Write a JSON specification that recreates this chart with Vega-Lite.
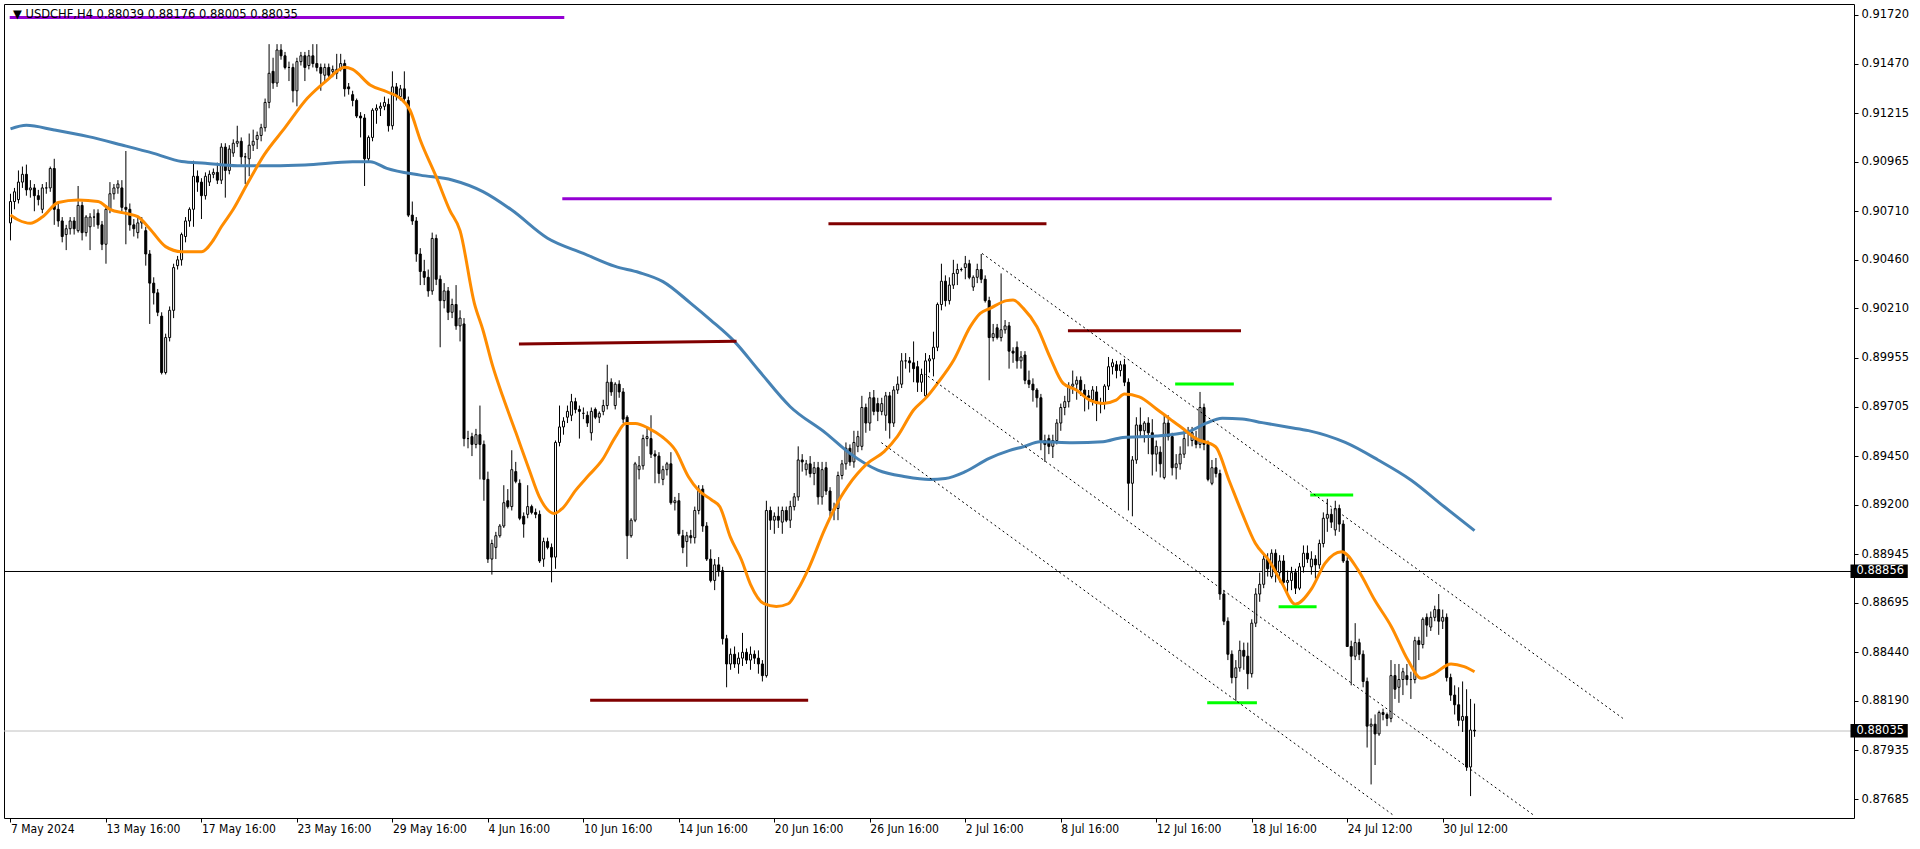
{
"$schema":"https://vega.github.io/schema/vega-lite/v6.json",
"width":1850,"height":814,
"autosize":{"type":"none"},
"padding":{"left":4,"top":4,"right":66,"bottom":31},
"background":"white",
"config":{"view":{"stroke":"black","strokeWidth":1},"axis":{"grid":false}},
"resolve":{"axis":{"x":"independent","y":"independent"}},
"datasets":{
"candles":[
{"i":0,"o":0.9065,"h":0.908,"l":0.9056,"c":0.9076},
{"i":1,"o":0.9076,"h":0.9083,"l":0.9072,"c":0.9081},
{"i":2,"o":0.9077,"h":0.9092,"l":0.9075,"c":0.9086},
{"i":3,"o":0.9086,"h":0.9094,"l":0.9083,"c":0.909},
{"i":4,"o":0.909,"h":0.9095,"l":0.9079,"c":0.9082},
{"i":5,"o":0.9082,"h":0.9087,"l":0.9078,"c":0.9083},
{"i":6,"o":0.9083,"h":0.9085,"l":0.9071,"c":0.9079},
{"i":7,"o":0.9079,"h":0.9082,"l":0.9074,"c":0.9077},
{"i":8,"o":0.9072,"h":0.9085,"l":0.907,"c":0.9083},
{"i":9,"o":0.9083,"h":0.9086,"l":0.908,"c":0.9083},
{"i":10,"o":0.9083,"h":0.9094,"l":0.9081,"c":0.9093},
{"i":11,"o":0.9093,"h":0.9098,"l":0.9064,"c":0.9072},
{"i":12,"o":0.9072,"h":0.9075,"l":0.9063,"c":0.9066},
{"i":13,"o":0.9066,"h":0.9068,"l":0.9055,"c":0.9058},
{"i":14,"o":0.9059,"h":0.9064,"l":0.9051,"c":0.9062},
{"i":15,"o":0.9062,"h":0.9068,"l":0.9059,"c":0.9066},
{"i":16,"o":0.9066,"h":0.9068,"l":0.9059,"c":0.9062},
{"i":17,"o":0.9061,"h":0.9084,"l":0.906,"c":0.9074},
{"i":18,"o":0.9074,"h":0.9076,"l":0.9056,"c":0.906},
{"i":19,"o":0.906,"h":0.9069,"l":0.9058,"c":0.9068},
{"i":20,"o":0.9063,"h":0.907,"l":0.9051,"c":0.9068},
{"i":21,"o":0.9068,"h":0.9072,"l":0.9063,"c":0.9068},
{"i":22,"o":0.907,"h":0.9072,"l":0.9062,"c":0.9064},
{"i":23,"o":0.9064,"h":0.9066,"l":0.9051,"c":0.9054},
{"i":24,"o":0.9054,"h":0.9074,"l":0.9044,"c":0.9072},
{"i":25,"o":0.9072,"h":0.9086,"l":0.907,"c":0.908},
{"i":26,"o":0.908,"h":0.9085,"l":0.9077,"c":0.9083},
{"i":27,"o":0.9083,"h":0.9087,"l":0.908,"c":0.9085},
{"i":28,"o":0.9083,"h":0.9087,"l":0.9071,"c":0.9073},
{"i":29,"o":0.9073,"h":0.9102,"l":0.9054,"c":0.9072},
{"i":30,"o":0.9072,"h":0.9075,"l":0.9061,"c":0.9064},
{"i":31,"o":0.9064,"h":0.9067,"l":0.9058,"c":0.9062},
{"i":32,"o":0.906,"h":0.9068,"l":0.9057,"c":0.9065},
{"i":33,"o":0.9065,"h":0.9068,"l":0.9062,"c":0.9066},
{"i":34,"o":0.9061,"h":0.9063,"l":0.9043,"c":0.9049},
{"i":35,"o":0.9049,"h":0.9051,"l":0.9013,"c":0.9034},
{"i":36,"o":0.9034,"h":0.9037,"l":0.9023,"c":0.9029},
{"i":37,"o":0.9029,"h":0.9031,"l":0.9017,"c":0.9019},
{"i":38,"o":0.9017,"h":0.9019,"l":0.8987,"c":0.8988},
{"i":39,"o":0.8988,"h":0.9008,"l":0.8987,"c":0.9006},
{"i":40,"o":0.9006,"h":0.9022,"l":0.9004,"c":0.902},
{"i":41,"o":0.902,"h":0.9044,"l":0.9016,"c":0.9042},
{"i":42,"o":0.9043,"h":0.9048,"l":0.9041,"c":0.9046},
{"i":43,"o":0.9046,"h":0.906,"l":0.9043,"c":0.9059},
{"i":44,"o":0.9058,"h":0.9068,"l":0.9055,"c":0.9066},
{"i":45,"o":0.9066,"h":0.9073,"l":0.9063,"c":0.9072},
{"i":46,"o":0.9072,"h":0.9097,"l":0.9063,"c":0.9089},
{"i":47,"o":0.9089,"h":0.9092,"l":0.9081,"c":0.9086},
{"i":48,"o":0.9086,"h":0.9088,"l":0.9067,"c":0.9079},
{"i":49,"o":0.9079,"h":0.9091,"l":0.9077,"c":0.9089},
{"i":50,"o":0.9086,"h":0.9092,"l":0.9084,"c":0.909},
{"i":51,"o":0.909,"h":0.9093,"l":0.9088,"c":0.9091},
{"i":52,"o":0.9091,"h":0.9096,"l":0.9085,"c":0.9087},
{"i":53,"o":0.9087,"h":0.9106,"l":0.9085,"c":0.9104},
{"i":54,"o":0.9104,"h":0.9106,"l":0.9078,"c":0.9092},
{"i":55,"o":0.9092,"h":0.9105,"l":0.909,"c":0.9103},
{"i":56,"o":0.9101,"h":0.9108,"l":0.9099,"c":0.9106},
{"i":57,"o":0.9106,"h":0.9115,"l":0.9104,"c":0.9107},
{"i":58,"o":0.9107,"h":0.9109,"l":0.9095,"c":0.9099},
{"i":59,"o":0.9099,"h":0.9101,"l":0.9085,"c":0.9099},
{"i":60,"o":0.9098,"h":0.9111,"l":0.9089,"c":0.9105},
{"i":61,"o":0.9105,"h":0.9113,"l":0.9102,"c":0.9107},
{"i":62,"o":0.9108,"h":0.9112,"l":0.9103,"c":0.911},
{"i":63,"o":0.911,"h":0.9116,"l":0.9107,"c":0.9114},
{"i":64,"o":0.9114,"h":0.9129,"l":0.9112,"c":0.9127},
{"i":65,"o":0.9127,"h":0.9157,"l":0.9124,"c":0.9142},
{"i":66,"o":0.9143,"h":0.915,"l":0.9134,"c":0.9137},
{"i":67,"o":0.9137,"h":0.9157,"l":0.9135,"c":0.9154},
{"i":68,"o":0.9154,"h":0.9157,"l":0.9149,"c":0.9151},
{"i":69,"o":0.9151,"h":0.9153,"l":0.9144,"c":0.9145},
{"i":70,"o":0.9145,"h":0.9148,"l":0.9138,"c":0.9145},
{"i":71,"o":0.9145,"h":0.9147,"l":0.9127,"c":0.9133},
{"i":72,"o":0.9133,"h":0.915,"l":0.9125,"c":0.9148},
{"i":73,"o":0.9148,"h":0.9153,"l":0.9146,"c":0.9151},
{"i":74,"o":0.9151,"h":0.9153,"l":0.9138,"c":0.9145},
{"i":75,"o":0.9146,"h":0.9154,"l":0.9144,"c":0.9151},
{"i":76,"o":0.9151,"h":0.9157,"l":0.9145,"c":0.9147},
{"i":77,"o":0.9147,"h":0.9157,"l":0.9143,"c":0.9145},
{"i":78,"o":0.9145,"h":0.9147,"l":0.9133,"c":0.9142},
{"i":79,"o":0.9141,"h":0.9147,"l":0.9137,"c":0.9145},
{"i":80,"o":0.9145,"h":0.9147,"l":0.914,"c":0.9141},
{"i":81,"o":0.9143,"h":0.9146,"l":0.914,"c":0.9144},
{"i":82,"o":0.9142,"h":0.9152,"l":0.9139,"c":0.9144},
{"i":83,"o":0.9144,"h":0.9152,"l":0.9143,"c":0.9147},
{"i":84,"o":0.9147,"h":0.9149,"l":0.913,"c":0.9134},
{"i":85,"o":0.9135,"h":0.9137,"l":0.9131,"c":0.9134},
{"i":86,"o":0.9131,"h":0.9133,"l":0.9125,"c":0.9128},
{"i":87,"o":0.9128,"h":0.9129,"l":0.9119,"c":0.912},
{"i":88,"o":0.912,"h":0.9122,"l":0.9109,"c":0.9119},
{"i":89,"o":0.9119,"h":0.9121,"l":0.9084,"c":0.9098},
{"i":90,"o":0.9098,"h":0.911,"l":0.9096,"c":0.9109},
{"i":91,"o":0.9109,"h":0.9124,"l":0.9107,"c":0.9123},
{"i":92,"o":0.9123,"h":0.9126,"l":0.9116,"c":0.9124},
{"i":93,"o":0.9124,"h":0.9127,"l":0.912,"c":0.9125},
{"i":94,"o":0.9125,"h":0.913,"l":0.9123,"c":0.9127},
{"i":95,"o":0.9126,"h":0.9129,"l":0.9112,"c":0.9115},
{"i":96,"o":0.9115,"h":0.9143,"l":0.9113,"c":0.9135},
{"i":97,"o":0.9135,"h":0.9137,"l":0.9128,"c":0.913},
{"i":98,"o":0.913,"h":0.9136,"l":0.9128,"c":0.9134},
{"i":99,"o":0.9134,"h":0.9143,"l":0.9127,"c":0.9129},
{"i":100,"o":0.9128,"h":0.913,"l":0.9068,"c":0.9069},
{"i":101,"o":0.9069,"h":0.9076,"l":0.9064,"c":0.9066},
{"i":102,"o":0.9066,"h":0.9068,"l":0.9045,"c":0.9049},
{"i":103,"o":0.9049,"h":0.9052,"l":0.9033,"c":0.904},
{"i":104,"o":0.904,"h":0.9046,"l":0.9033,"c":0.9037},
{"i":105,"o":0.9037,"h":0.9041,"l":0.9027,"c":0.903},
{"i":106,"o":0.903,"h":0.906,"l":0.9028,"c":0.9057},
{"i":107,"o":0.9057,"h":0.9059,"l":0.9033,"c":0.9036},
{"i":108,"o":0.9036,"h":0.9038,"l":0.9001,"c":0.9025},
{"i":109,"o":0.9025,"h":0.9034,"l":0.9021,"c":0.903},
{"i":110,"o":0.903,"h":0.9032,"l":0.9015,"c":0.9019},
{"i":111,"o":0.9019,"h":0.9026,"l":0.9016,"c":0.9023},
{"i":112,"o":0.9023,"h":0.9033,"l":0.901,"c":0.9012},
{"i":113,"o":0.9012,"h":0.902,"l":0.9004,"c":0.9016},
{"i":114,"o":0.9013,"h":0.9016,"l":0.895,"c":0.8954},
{"i":115,"o":0.8954,"h":0.8958,"l":0.8949,"c":0.8954},
{"i":116,"o":0.8955,"h":0.8957,"l":0.8945,"c":0.8951},
{"i":117,"o":0.8951,"h":0.8959,"l":0.8949,"c":0.8956},
{"i":118,"o":0.8956,"h":0.8971,"l":0.8933,"c":0.8951},
{"i":119,"o":0.8951,"h":0.8953,"l":0.8922,"c":0.8933},
{"i":120,"o":0.8933,"h":0.8937,"l":0.889,"c":0.8892},
{"i":121,"o":0.8892,"h":0.8902,"l":0.8884,"c":0.89},
{"i":122,"o":0.8898,"h":0.8906,"l":0.8892,"c":0.8904},
{"i":123,"o":0.8904,"h":0.891,"l":0.8903,"c":0.8909},
{"i":124,"o":0.8909,"h":0.893,"l":0.8908,"c":0.8921},
{"i":125,"o":0.8922,"h":0.8928,"l":0.8918,"c":0.8919},
{"i":126,"o":0.8919,"h":0.8948,"l":0.8917,"c":0.8938},
{"i":127,"o":0.8937,"h":0.8942,"l":0.8931,"c":0.8932},
{"i":128,"o":0.8931,"h":0.8933,"l":0.8912,"c":0.8913},
{"i":129,"o":0.8914,"h":0.8916,"l":0.8903,"c":0.891},
{"i":130,"o":0.8915,"h":0.893,"l":0.8913,"c":0.8919},
{"i":131,"o":0.8919,"h":0.892,"l":0.8915,"c":0.8916},
{"i":132,"o":0.8916,"h":0.8918,"l":0.8913,"c":0.8915},
{"i":133,"o":0.8915,"h":0.8917,"l":0.889,"c":0.8891},
{"i":134,"o":0.8892,"h":0.8903,"l":0.8888,"c":0.8901},
{"i":135,"o":0.8901,"h":0.8903,"l":0.8897,"c":0.8898},
{"i":136,"o":0.8898,"h":0.89,"l":0.888,"c":0.8893},
{"i":137,"o":0.8893,"h":0.8953,"l":0.8887,"c":0.8952},
{"i":138,"o":0.8952,"h":0.8971,"l":0.895,"c":0.896},
{"i":139,"o":0.896,"h":0.8965,"l":0.8956,"c":0.8963},
{"i":140,"o":0.8965,"h":0.8971,"l":0.8962,"c":0.8968},
{"i":141,"o":0.8966,"h":0.8977,"l":0.8963,"c":0.8973},
{"i":142,"o":0.8973,"h":0.8975,"l":0.8967,"c":0.8969},
{"i":143,"o":0.8969,"h":0.8971,"l":0.8954,"c":0.8968},
{"i":144,"o":0.8967,"h":0.897,"l":0.8964,"c":0.8967},
{"i":145,"o":0.8966,"h":0.8968,"l":0.896,"c":0.8962},
{"i":146,"o":0.8957,"h":0.897,"l":0.8953,"c":0.8968},
{"i":147,"o":0.8969,"h":0.897,"l":0.8964,"c":0.8965},
{"i":148,"o":0.8965,"h":0.8968,"l":0.8962,"c":0.8967},
{"i":149,"o":0.8968,"h":0.8974,"l":0.8966,"c":0.8971},
{"i":150,"o":0.8971,"h":0.8992,"l":0.8969,"c":0.8983},
{"i":151,"o":0.8983,"h":0.8985,"l":0.8976,"c":0.8978},
{"i":152,"o":0.8971,"h":0.8983,"l":0.8969,"c":0.8982},
{"i":153,"o":0.8982,"h":0.8984,"l":0.8975,"c":0.8978},
{"i":154,"o":0.8978,"h":0.898,"l":0.8962,"c":0.8964},
{"i":155,"o":0.8965,"h":0.8966,"l":0.8892,"c":0.8904},
{"i":156,"o":0.8904,"h":0.8913,"l":0.8903,"c":0.8912},
{"i":157,"o":0.8912,"h":0.8942,"l":0.8911,"c":0.8941},
{"i":158,"o":0.8938,"h":0.8945,"l":0.8933,"c":0.894},
{"i":159,"o":0.894,"h":0.8956,"l":0.8938,"c":0.8954},
{"i":160,"o":0.8954,"h":0.896,"l":0.895,"c":0.8955},
{"i":161,"o":0.8954,"h":0.8966,"l":0.8944,"c":0.8946},
{"i":162,"o":0.8946,"h":0.8948,"l":0.8931,"c":0.8945},
{"i":163,"o":0.8945,"h":0.8947,"l":0.8931,"c":0.8936},
{"i":164,"o":0.8933,"h":0.894,"l":0.893,"c":0.8938},
{"i":165,"o":0.8938,"h":0.8942,"l":0.8935,"c":0.8941},
{"i":166,"o":0.8941,"h":0.8947,"l":0.892,"c":0.8921},
{"i":167,"o":0.8921,"h":0.8924,"l":0.8917,"c":0.8922},
{"i":168,"o":0.8922,"h":0.8926,"l":0.8904,"c":0.8905},
{"i":169,"o":0.8904,"h":0.8907,"l":0.8895,"c":0.8898},
{"i":170,"o":0.8901,"h":0.8906,"l":0.8888,"c":0.8904},
{"i":171,"o":0.8904,"h":0.8907,"l":0.89,"c":0.8903},
{"i":172,"o":0.8903,"h":0.8919,"l":0.89,"c":0.8917},
{"i":173,"o":0.8917,"h":0.893,"l":0.8915,"c":0.8928},
{"i":174,"o":0.8928,"h":0.893,"l":0.8906,"c":0.8909},
{"i":175,"o":0.8909,"h":0.8911,"l":0.8891,"c":0.8892},
{"i":176,"o":0.8892,"h":0.8897,"l":0.888,"c":0.8881},
{"i":177,"o":0.8881,"h":0.8892,"l":0.8876,"c":0.8889},
{"i":178,"o":0.8889,"h":0.8893,"l":0.8883,"c":0.8886},
{"i":179,"o":0.8886,"h":0.8888,"l":0.8848,"c":0.8851},
{"i":180,"o":0.8851,"h":0.8853,"l":0.8826,"c":0.8838},
{"i":181,"o":0.8838,"h":0.8846,"l":0.8835,"c":0.8843},
{"i":182,"o":0.8843,"h":0.8847,"l":0.8836,"c":0.8838},
{"i":183,"o":0.8838,"h":0.8844,"l":0.8833,"c":0.8841},
{"i":184,"o":0.8841,"h":0.8854,"l":0.8837,"c":0.8844},
{"i":185,"o":0.8844,"h":0.8846,"l":0.8838,"c":0.884},
{"i":186,"o":0.884,"h":0.8847,"l":0.8835,"c":0.8843},
{"i":187,"o":0.8843,"h":0.8845,"l":0.8838,"c":0.8841},
{"i":188,"o":0.8841,"h":0.8845,"l":0.8833,"c":0.8838},
{"i":189,"o":0.8838,"h":0.884,"l":0.8829,"c":0.8832},
{"i":190,"o":0.8832,"h":0.8922,"l":0.8831,"c":0.8917},
{"i":191,"o":0.8917,"h":0.8919,"l":0.8907,"c":0.8912},
{"i":192,"o":0.8912,"h":0.8916,"l":0.8905,"c":0.8914},
{"i":193,"o":0.8914,"h":0.8919,"l":0.8908,"c":0.8912},
{"i":194,"o":0.8911,"h":0.8919,"l":0.8905,"c":0.8917},
{"i":195,"o":0.8917,"h":0.8919,"l":0.8911,"c":0.8912},
{"i":196,"o":0.8912,"h":0.8922,"l":0.8908,"c":0.8919},
{"i":197,"o":0.8919,"h":0.8926,"l":0.8917,"c":0.8924},
{"i":198,"o":0.8924,"h":0.895,"l":0.8922,"c":0.8943},
{"i":199,"o":0.8943,"h":0.8946,"l":0.8937,"c":0.8942},
{"i":200,"o":0.8938,"h":0.8943,"l":0.8935,"c":0.8941},
{"i":201,"o":0.8941,"h":0.8945,"l":0.8934,"c":0.8936},
{"i":202,"o":0.8936,"h":0.8942,"l":0.893,"c":0.8939},
{"i":203,"o":0.8939,"h":0.8942,"l":0.892,"c":0.8924},
{"i":204,"o":0.8924,"h":0.8942,"l":0.892,"c":0.8938},
{"i":205,"o":0.8939,"h":0.8942,"l":0.8925,"c":0.8927},
{"i":206,"o":0.8927,"h":0.8929,"l":0.8914,"c":0.8917},
{"i":207,"o":0.8917,"h":0.8921,"l":0.8912,"c":0.8918},
{"i":208,"o":0.8918,"h":0.8937,"l":0.8912,"c":0.8935},
{"i":209,"o":0.8935,"h":0.8943,"l":0.8933,"c":0.8941},
{"i":210,"o":0.8941,"h":0.8952,"l":0.8938,"c":0.8949},
{"i":211,"o":0.8949,"h":0.8951,"l":0.894,"c":0.8942},
{"i":212,"o":0.8942,"h":0.8958,"l":0.8939,"c":0.8952},
{"i":213,"o":0.895,"h":0.8958,"l":0.8947,"c":0.8955},
{"i":214,"o":0.895,"h":0.8976,"l":0.8948,"c":0.897},
{"i":215,"o":0.897,"h":0.8972,"l":0.8957,"c":0.8962},
{"i":216,"o":0.8962,"h":0.8978,"l":0.8958,"c":0.8975},
{"i":217,"o":0.8975,"h":0.8979,"l":0.8966,"c":0.8968},
{"i":218,"o":0.8972,"h":0.8975,"l":0.8963,"c":0.8968},
{"i":219,"o":0.8968,"h":0.8975,"l":0.8966,"c":0.8972},
{"i":220,"o":0.8966,"h":0.8978,"l":0.8958,"c":0.8976},
{"i":221,"o":0.8976,"h":0.8978,"l":0.8954,"c":0.8962},
{"i":222,"o":0.8962,"h":0.8981,"l":0.896,"c":0.8979},
{"i":223,"o":0.8979,"h":0.8986,"l":0.8977,"c":0.8982},
{"i":224,"o":0.8982,"h":0.8998,"l":0.898,"c":0.8994},
{"i":225,"o":0.8994,"h":0.8998,"l":0.899,"c":0.8994},
{"i":226,"o":0.8994,"h":0.8996,"l":0.8988,"c":0.8993},
{"i":227,"o":0.8993,"h":0.9004,"l":0.8983,"c":0.899},
{"i":228,"o":0.8991,"h":0.8994,"l":0.8978,"c":0.8983},
{"i":229,"o":0.8983,"h":0.899,"l":0.8978,"c":0.8987},
{"i":230,"o":0.8976,"h":0.8998,"l":0.8975,"c":0.8994},
{"i":231,"o":0.8994,"h":0.8997,"l":0.8988,"c":0.8995},
{"i":232,"o":0.8995,"h":0.9009,"l":0.8986,"c":0.9001},
{"i":233,"o":0.9001,"h":0.9024,"l":0.8999,"c":0.9023},
{"i":234,"o":0.9023,"h":0.9044,"l":0.902,"c":0.9035},
{"i":235,"o":0.9035,"h":0.9038,"l":0.9022,"c":0.9025},
{"i":236,"o":0.9025,"h":0.9037,"l":0.9023,"c":0.9033},
{"i":237,"o":0.9033,"h":0.9046,"l":0.9031,"c":0.9039},
{"i":238,"o":0.9039,"h":0.9044,"l":0.9033,"c":0.9041},
{"i":239,"o":0.9041,"h":0.9042,"l":0.904,"c":0.9041},
{"i":240,"o":0.9042,"h":0.9048,"l":0.9036,"c":0.9044},
{"i":241,"o":0.9044,"h":0.9046,"l":0.9036,"c":0.9037},
{"i":242,"o":0.9032,"h":0.9038,"l":0.903,"c":0.9037},
{"i":243,"o":0.9037,"h":0.9044,"l":0.9034,"c":0.9041},
{"i":244,"o":0.9041,"h":0.9049,"l":0.9034,"c":0.9036},
{"i":245,"o":0.9036,"h":0.9038,"l":0.9024,"c":0.9025},
{"i":246,"o":0.9025,"h":0.9027,"l":0.8984,"c":0.9006},
{"i":247,"o":0.9006,"h":0.9013,"l":0.9004,"c":0.9008},
{"i":248,"o":0.9011,"h":0.9013,"l":0.9005,"c":0.9006},
{"i":249,"o":0.9006,"h":0.9039,"l":0.9004,"c":0.901},
{"i":250,"o":0.901,"h":0.9015,"l":0.9008,"c":0.9012},
{"i":251,"o":0.9012,"h":0.9014,"l":0.899,"c":0.8999},
{"i":252,"o":0.8999,"h":0.9001,"l":0.8993,"c":0.8998},
{"i":253,"o":0.9001,"h":0.9004,"l":0.899,"c":0.8994},
{"i":254,"o":0.8994,"h":0.8999,"l":0.899,"c":0.8996},
{"i":255,"o":0.8997,"h":0.8999,"l":0.8982,"c":0.8984},
{"i":256,"o":0.8984,"h":0.8989,"l":0.898,"c":0.8982},
{"i":257,"o":0.8982,"h":0.8985,"l":0.8973,"c":0.8979},
{"i":258,"o":0.8979,"h":0.898,"l":0.897,"c":0.8975},
{"i":259,"o":0.8975,"h":0.8977,"l":0.8948,"c":0.8953},
{"i":260,"o":0.8953,"h":0.8956,"l":0.8942,"c":0.8951},
{"i":261,"o":0.8954,"h":0.8956,"l":0.8946,"c":0.895},
{"i":262,"o":0.895,"h":0.8956,"l":0.8944,"c":0.8953},
{"i":263,"o":0.8953,"h":0.8964,"l":0.8951,"c":0.8962},
{"i":264,"o":0.8962,"h":0.8972,"l":0.8958,"c":0.897},
{"i":265,"o":0.897,"h":0.8976,"l":0.8966,"c":0.8973},
{"i":266,"o":0.8973,"h":0.8983,"l":0.897,"c":0.8981},
{"i":267,"o":0.8981,"h":0.8989,"l":0.8977,"c":0.8982},
{"i":268,"o":0.8982,"h":0.8986,"l":0.8974,"c":0.8984},
{"i":269,"o":0.8984,"h":0.8986,"l":0.8976,"c":0.8979},
{"i":270,"o":0.8979,"h":0.8982,"l":0.8968,"c":0.8976},
{"i":271,"o":0.8976,"h":0.8979,"l":0.8969,"c":0.8975},
{"i":272,"o":0.8974,"h":0.8981,"l":0.8971,"c":0.8979},
{"i":273,"o":0.8978,"h":0.8981,"l":0.8963,"c":0.8972},
{"i":274,"o":0.8972,"h":0.8975,"l":0.8967,"c":0.8972},
{"i":275,"o":0.8972,"h":0.8982,"l":0.8969,"c":0.8981},
{"i":276,"o":0.8981,"h":0.8996,"l":0.8979,"c":0.8991},
{"i":277,"o":0.8991,"h":0.8995,"l":0.8987,"c":0.8993},
{"i":278,"o":0.8992,"h":0.8994,"l":0.8985,"c":0.8989},
{"i":279,"o":0.8989,"h":0.8994,"l":0.8986,"c":0.8992},
{"i":280,"o":0.8992,"h":0.8995,"l":0.8981,"c":0.8983},
{"i":281,"o":0.8983,"h":0.8985,"l":0.8917,"c":0.8931},
{"i":282,"o":0.8931,"h":0.8945,"l":0.8914,"c":0.8943},
{"i":283,"o":0.8943,"h":0.8965,"l":0.8941,"c":0.8961},
{"i":284,"o":0.8961,"h":0.897,"l":0.8955,"c":0.8958},
{"i":285,"o":0.8958,"h":0.8963,"l":0.8952,"c":0.8962},
{"i":286,"o":0.8962,"h":0.8965,"l":0.8946,"c":0.8957},
{"i":287,"o":0.8957,"h":0.8964,"l":0.8935,"c":0.8946},
{"i":288,"o":0.8946,"h":0.8953,"l":0.8937,"c":0.895},
{"i":289,"o":0.8947,"h":0.895,"l":0.8934,"c":0.8941},
{"i":290,"o":0.8934,"h":0.8966,"l":0.8933,"c":0.8962},
{"i":291,"o":0.8962,"h":0.8966,"l":0.8953,"c":0.8955},
{"i":292,"o":0.8955,"h":0.8957,"l":0.8935,"c":0.8939},
{"i":293,"o":0.8939,"h":0.8946,"l":0.8933,"c":0.8941},
{"i":294,"o":0.8941,"h":0.895,"l":0.8938,"c":0.8946},
{"i":295,"o":0.8946,"h":0.8958,"l":0.8944,"c":0.8954},
{"i":296,"o":0.8957,"h":0.896,"l":0.895,"c":0.8957},
{"i":297,"o":0.8953,"h":0.896,"l":0.895,"c":0.8957},
{"i":298,"o":0.8954,"h":0.8958,"l":0.8949,"c":0.8951},
{"i":299,"o":0.8951,"h":0.8978,"l":0.8949,"c":0.897},
{"i":300,"o":0.897,"h":0.8972,"l":0.8948,"c":0.8951},
{"i":301,"o":0.8951,"h":0.8953,"l":0.8932,"c":0.8933},
{"i":302,"o":0.8931,"h":0.8943,"l":0.893,"c":0.8939},
{"i":303,"o":0.8939,"h":0.8944,"l":0.8934,"c":0.8936},
{"i":304,"o":0.8936,"h":0.8938,"l":0.8871,"c":0.8874},
{"i":305,"o":0.8874,"h":0.8876,"l":0.8858,"c":0.886},
{"i":306,"o":0.886,"h":0.8862,"l":0.884,"c":0.8843},
{"i":307,"o":0.8843,"h":0.8845,"l":0.8828,"c":0.8831},
{"i":308,"o":0.8831,"h":0.884,"l":0.8819,"c":0.8836},
{"i":309,"o":0.8836,"h":0.885,"l":0.8834,"c":0.8845},
{"i":310,"o":0.8845,"h":0.8849,"l":0.8835,"c":0.8842},
{"i":311,"o":0.8842,"h":0.8849,"l":0.8825,"c":0.8833},
{"i":312,"o":0.8833,"h":0.8861,"l":0.8831,"c":0.8859},
{"i":313,"o":0.8859,"h":0.8877,"l":0.8857,"c":0.8874},
{"i":314,"o":0.8874,"h":0.8885,"l":0.887,"c":0.8879},
{"i":315,"o":0.8879,"h":0.8895,"l":0.8877,"c":0.8892},
{"i":316,"o":0.8892,"h":0.8895,"l":0.8883,"c":0.8887},
{"i":317,"o":0.8883,"h":0.8897,"l":0.8882,"c":0.8895},
{"i":318,"o":0.8895,"h":0.8897,"l":0.888,"c":0.8885},
{"i":319,"o":0.8885,"h":0.8894,"l":0.888,"c":0.8891},
{"i":320,"o":0.8891,"h":0.8894,"l":0.8878,"c":0.888},
{"i":321,"o":0.888,"h":0.8886,"l":0.8874,"c":0.8881},
{"i":322,"o":0.8881,"h":0.8888,"l":0.8876,"c":0.8885},
{"i":323,"o":0.8885,"h":0.8887,"l":0.8874,"c":0.8877},
{"i":324,"o":0.8877,"h":0.889,"l":0.8876,"c":0.8888},
{"i":325,"o":0.8888,"h":0.8899,"l":0.8885,"c":0.8895},
{"i":326,"o":0.8895,"h":0.8899,"l":0.889,"c":0.8892},
{"i":327,"o":0.8888,"h":0.8896,"l":0.8884,"c":0.8892},
{"i":328,"o":0.8892,"h":0.8894,"l":0.8882,"c":0.8889},
{"i":329,"o":0.8889,"h":0.8902,"l":0.8887,"c":0.89},
{"i":330,"o":0.89,"h":0.8916,"l":0.8898,"c":0.8913},
{"i":331,"o":0.8913,"h":0.8923,"l":0.8906,"c":0.8915},
{"i":332,"o":0.8915,"h":0.8918,"l":0.8908,"c":0.8911},
{"i":333,"o":0.8907,"h":0.8922,"l":0.8904,"c":0.8918},
{"i":334,"o":0.8918,"h":0.892,"l":0.8906,"c":0.891},
{"i":335,"o":0.891,"h":0.8912,"l":0.889,"c":0.8891},
{"i":336,"o":0.8891,"h":0.8893,"l":0.8847,"c":0.8847},
{"i":337,"o":0.8847,"h":0.885,"l":0.8827,"c":0.8842},
{"i":338,"o":0.8842,"h":0.8859,"l":0.884,"c":0.8849},
{"i":339,"o":0.8849,"h":0.8851,"l":0.884,"c":0.8843},
{"i":340,"o":0.8843,"h":0.8845,"l":0.8826,"c":0.8829},
{"i":341,"o":0.8829,"h":0.8831,"l":0.8795,"c":0.8806},
{"i":342,"o":0.8806,"h":0.881,"l":0.8776,"c":0.8807},
{"i":343,"o":0.8807,"h":0.8812,"l":0.8786,"c":0.8802},
{"i":344,"o":0.8802,"h":0.8814,"l":0.8801,"c":0.8813},
{"i":345,"o":0.8813,"h":0.8815,"l":0.8809,"c":0.8812},
{"i":346,"o":0.8812,"h":0.8813,"l":0.8806,"c":0.881},
{"i":347,"o":0.881,"h":0.884,"l":0.8808,"c":0.8832},
{"i":348,"o":0.8832,"h":0.8838,"l":0.882,"c":0.8825},
{"i":349,"o":0.8826,"h":0.8838,"l":0.8818,"c":0.883},
{"i":350,"o":0.883,"h":0.8836,"l":0.8822,"c":0.8834},
{"i":351,"o":0.8832,"h":0.8838,"l":0.8827,"c":0.883},
{"i":352,"o":0.883,"h":0.8834,"l":0.882,"c":0.883},
{"i":353,"o":0.883,"h":0.8852,"l":0.8828,"c":0.885},
{"i":354,"o":0.885,"h":0.8852,"l":0.884,"c":0.8848},
{"i":355,"o":0.8848,"h":0.8862,"l":0.8846,"c":0.8861},
{"i":356,"o":0.8862,"h":0.8864,"l":0.8852,"c":0.8858},
{"i":357,"o":0.8857,"h":0.8865,"l":0.8855,"c":0.8862},
{"i":358,"o":0.8862,"h":0.8868,"l":0.886,"c":0.8866},
{"i":359,"o":0.8866,"h":0.8874,"l":0.8853,"c":0.886},
{"i":360,"o":0.886,"h":0.8866,"l":0.8856,"c":0.8862},
{"i":361,"o":0.8862,"h":0.8864,"l":0.8829,"c":0.8831},
{"i":362,"o":0.8831,"h":0.8833,"l":0.8819,"c":0.8822},
{"i":363,"o":0.8822,"h":0.8827,"l":0.8812,"c":0.8817},
{"i":364,"o":0.8817,"h":0.8826,"l":0.8806,"c":0.8809},
{"i":365,"o":0.8809,"h":0.8829,"l":0.8803,"c":0.8811},
{"i":366,"o":0.8811,"h":0.8825,"l":0.8783,"c":0.8785},
{"i":367,"o":0.8785,"h":0.882,"l":0.877,"c":0.8804},
{"i":368,"o":0.88039,"h":0.88176,"l":0.88005,"c":0.88035}
],
"blue":[
{"i":0,"p":0.91134},{"i":4,"p":0.91152},{"i":11,"p":0.91128},{"i":19.6,"p":0.91094},{"i":28,"p":0.91051},{"i":36,"p":0.91008},{"i":43,"p":0.90966},{"i":49,"p":0.90957},{"i":57,"p":0.90944},{"i":66,"p":0.90944},{"i":74,"p":0.90948},{"i":86,"p":0.90965},{"i":90.4,"p":0.90965},{"i":94.6,"p":0.90931},{"i":103,"p":0.90896},{"i":111,"p":0.90871},{"i":118.75,"p":0.90811},{"i":126,"p":0.90716},{"i":135,"p":0.90571},{"i":144,"p":0.90493},{"i":152,"p":0.90426},{"i":158,"p":0.90395},{"i":164,"p":0.90348},{"i":171,"p":0.90236},{"i":176,"p":0.9015},{"i":182,"p":0.90039},{"i":188,"p":0.89893},{"i":196,"p":0.89704},{"i":205,"p":0.89567},{"i":211,"p":0.89464},{"i":218,"p":0.89378},{"i":225,"p":0.89344},{"i":231,"p":0.8933},{"i":235,"p":0.89335},{"i":240,"p":0.8937},{"i":246,"p":0.89438},{"i":251,"p":0.89478},{"i":254.6,"p":0.89498},{"i":258.75,"p":0.89524},{"i":267,"p":0.89519},{"i":274.6,"p":0.89524},{"i":279.6,"p":0.89546},{"i":288,"p":0.89553},{"i":296,"p":0.89575},{"i":300.4,"p":0.89618},{"i":304.6,"p":0.89644},{"i":309.6,"p":0.89641},{"i":314.6,"p":0.89622},{"i":321.25,"p":0.89598},{"i":326.25,"p":0.89581},{"i":335.5,"p":0.8952},{"i":343.75,"p":0.8943},{"i":352,"p":0.89327},{"i":360.4,"p":0.89189},{"i":368,"p":0.89066}
],
"orange":[
{"i":0,"p":0.90691},{"i":2,"p":0.90665},{"i":5,"p":0.90648},{"i":8,"p":0.9068},{"i":12,"p":0.90755},{"i":17,"p":0.90768},{"i":22,"p":0.9076},{"i":25,"p":0.9072},{"i":29,"p":0.90699},{"i":32,"p":0.90682},{"i":35,"p":0.9062},{"i":39,"p":0.90528},{"i":43,"p":0.90502},{"i":48,"p":0.90502},{"i":51,"p":0.90562},{"i":53,"p":0.9063},{"i":56,"p":0.9072},{"i":59.6,"p":0.90854},{"i":63.75,"p":0.91},{"i":69,"p":0.9114},{"i":74.6,"p":0.91291},{"i":79.6,"p":0.91385},{"i":84,"p":0.91451},{"i":86,"p":0.9144},{"i":90.4,"p":0.9136},{"i":94.6,"p":0.91325},{"i":98,"p":0.91291},{"i":100.4,"p":0.91231},{"i":103,"p":0.91077},{"i":107,"p":0.90888},{"i":110.4,"p":0.90716},{"i":113,"p":0.9061},{"i":116.6,"p":0.90236},{"i":118.75,"p":0.90099},{"i":121.25,"p":0.8991},{"i":123.75,"p":0.89756},{"i":127.1,"p":0.89567},{"i":130.4,"p":0.89378},{"i":132.9,"p":0.89241},{"i":136.7,"p":0.89155},{"i":138.75,"p":0.89181},{"i":142.1,"p":0.89275},{"i":145.4,"p":0.89352},{"i":148.75,"p":0.8943},{"i":152.1,"p":0.8955},{"i":154.6,"p":0.89618},{"i":157.1,"p":0.89618},{"i":160.4,"p":0.89593},{"i":163.75,"p":0.8955},{"i":167.1,"p":0.89481},{"i":170.4,"p":0.89344},{"i":172.9,"p":0.89275},{"i":176.25,"p":0.89224},{"i":178.3,"p":0.89189},{"i":181,"p":0.8903},{"i":183.75,"p":0.88915},{"i":186,"p":0.8879},{"i":189.4,"p":0.8869},{"i":192.5,"p":0.88676},{"i":195.5,"p":0.8869},{"i":197.8,"p":0.88759},{"i":200.8,"p":0.8888},{"i":204.6,"p":0.8907},{"i":208.75,"p":0.89241},{"i":210.4,"p":0.89293},{"i":215.4,"p":0.89412},{"i":219.6,"p":0.89473},{"i":222.9,"p":0.8955},{"i":227,"p":0.89687},{"i":230.4,"p":0.89756},{"i":233,"p":0.89824},{"i":237.1,"p":0.89944},{"i":241.25,"p":0.90116},{"i":243.75,"p":0.90184},{"i":246.25,"p":0.9021},{"i":250.4,"p":0.9025},{"i":252,"p":0.90253},{"i":254.6,"p":0.9021},{"i":258,"p":0.90116},{"i":261.25,"p":0.89961},{"i":264.6,"p":0.89824},{"i":267.9,"p":0.8979},{"i":271.25,"p":0.89738},{"i":274.6,"p":0.89721},{"i":277.9,"p":0.89738},{"i":280,"p":0.89769},{"i":283.75,"p":0.89755},{"i":287.9,"p":0.89695},{"i":291.25,"p":0.89644},{"i":294.6,"p":0.89593},{"i":297.9,"p":0.89541},{"i":302.9,"p":0.89498},{"i":306.25,"p":0.89327},{"i":309.6,"p":0.89155},{"i":312.9,"p":0.89001},{"i":316.25,"p":0.88915},{"i":319.6,"p":0.88795},{"i":322.9,"p":0.88688},{"i":327.1,"p":0.88769},{"i":330.4,"p":0.88898},{"i":334.6,"p":0.88958},{"i":338.75,"p":0.88863},{"i":342.9,"p":0.88709},{"i":347.1,"p":0.88572},{"i":351.25,"p":0.884},{"i":354.6,"p":0.88306},{"i":357.9,"p":0.88332},{"i":362.1,"p":0.8838},{"i":365.4,"p":0.88366},{"i":368,"p":0.8834}
],
"segs":[
{"i":-0.2,"i2":139.2,"p":0.91707,"p2":0.91707,"kind":"purple"},
{"i":138.7,"i2":387.4,"p":0.90774,"p2":0.90774,"kind":"purple"},
{"i":205.6,"i2":260.4,"p":0.90646,"p2":0.90646,"kind":"maroon"},
{"i":265.8,"i2":309.3,"p":0.90095,"p2":0.90095,"kind":"maroon"},
{"i":127.8,"i2":182.5,"p":0.90027,"p2":0.90041,"kind":"maroon"},
{"i":145.7,"i2":200.5,"p":0.88193,"p2":0.88193,"kind":"maroon"},
{"i":292.75,"i2":307.5,"p":0.89821,"p2":0.89821,"kind":"green"},
{"i":326.7,"i2":337.5,"p":0.8925,"p2":0.8925,"kind":"green"},
{"i":318.75,"i2":328.3,"p":0.88675,"p2":0.88675,"kind":"green"},
{"i":300.8,"i2":313.3,"p":0.8818,"p2":0.8818,"kind":"green"}
],
"chan":[
{"i":244.2,"i2":405.3,"p":0.90493,"p2":0.881},
{"i":229.6,"i2":383,"p":0.89876,"p2":0.876},
{"i":218.9,"i2":347.7,"p":0.89519,"p2":0.876}
],
"hl":[
{"p":0.88856,"kind":"level","label":"0.88856"},
{"p":0.88035,"kind":"bid","label":"0.88035"}
],
"title":[{"t":"▼  USDCHF,H4  0.88039 0.88176 0.88005 0.88035"}]
},
"layer":[
{"data":{"name":"hl"},"mark":{"type":"rule","strokeWidth":1},
 "encoding":{"y":{"field":"p","type":"quantitative","scale":{"domain":[0.875873,0.917766],"nice":false,"zero":false},"axis":null},
 "color":{"condition":{"test":"datum.kind == 'bid'","value":"#C0C0C0"},"value":"#000000"}}},
{"data":{"name":"candles"},"mark":{"type":"rule","color":"black","strokeWidth":1},
 "encoding":{
  "x":{"field":"i","type":"quantitative","scale":{"domain":[-0.375,462.125],"nice":false,"zero":false},
   "axis":{"orient":"bottom","title":null,"values":[0,24,48,72,96,120,144,168,192,216,240,264,288,312,336,360],
    "labelExpr":"['7 May 2024','13 May 16:00','17 May 16:00','23 May 16:00','29 May 16:00','4 Jun 16:00','10 Jun 16:00','14 Jun 16:00','20 Jun 16:00','26 Jun 16:00','2 Jul 16:00','8 Jul 16:00','12 Jul 16:00','18 Jul 16:00','24 Jul 12:00','30 Jul 12:00'][round(datum.value/24)]",
    "domain":false,"grid":false,"ticks":true,"tickSize":4,"tickColor":"black","tickWidth":1,
    "labelAlign":"left","labelBaseline":"top","labelPadding":1,"labelFont":"DejaVu Sans Condensed, DejaVu Sans","labelFontSize":12,"labelColor":"black",
    "labelOverlap":false,"labelFlush":false,"labelBound":false}},
  "y":{"field":"l","type":"quantitative","scale":{"domain":[0.875873,0.917766],"nice":false,"zero":false},
   "axis":{"orient":"right","title":null,"values":[0.9172,0.9147,0.91215,0.90965,0.9071,0.9046,0.9021,0.89955,0.89705,0.8945,0.892,0.88945,0.88695,0.8844,0.8819,0.87935,0.87685],
    "format":".5f","domain":false,"grid":false,"ticks":true,"tickSize":4,"tickColor":"black","labelPadding":3,
    "labelFont":"DejaVu Sans","labelFontSize":11.5,"labelColor":"black","labelOverlap":false,"labelFlush":false,"labelBound":false}},
  "y2":{"field":"h"}}},
{"data":{"name":"candles"},"mark":{"type":"bar","width":2,"stroke":"black","strokeWidth":1},
 "encoding":{
  "x":{"field":"i","type":"quantitative","scale":{"domain":[-0.375,462.125],"nice":false,"zero":false},"axis":null},
  "y":{"field":"o","type":"quantitative","scale":{"domain":[0.875873,0.917766],"nice":false,"zero":false},"axis":null},
  "y2":{"field":"c"},
  "fill":{"condition":{"test":"datum.c >= datum.o","value":"white"},"value":"black"}}},
{"data":{"name":"blue"},"mark":{"type":"line","color":"#4682B4","strokeWidth":3,"interpolate":"monotone"},
 "encoding":{
  "x":{"field":"i","type":"quantitative","scale":{"domain":[-0.375,462.125],"nice":false,"zero":false},"axis":null},
  "y":{"field":"p","type":"quantitative","scale":{"domain":[0.875873,0.917766],"nice":false,"zero":false},"axis":null}}},
{"data":{"name":"orange"},"mark":{"type":"line","color":"#FF8C00","strokeWidth":3,"interpolate":"monotone"},
 "encoding":{
  "x":{"field":"i","type":"quantitative","scale":{"domain":[-0.375,462.125],"nice":false,"zero":false},"axis":null},
  "y":{"field":"p","type":"quantitative","scale":{"domain":[0.875873,0.917766],"nice":false,"zero":false},"axis":null}}},
{"data":{"name":"segs"},"mark":{"type":"rule","strokeWidth":3,"strokeCap":"butt"},
 "encoding":{
  "x":{"field":"i","type":"quantitative","scale":{"domain":[-0.375,462.125],"nice":false,"zero":false},"axis":null},
  "x2":{"field":"i2"},
  "y":{"field":"p","type":"quantitative","scale":{"domain":[0.875873,0.917766],"nice":false,"zero":false},"axis":null},
  "y2":{"field":"p2"},
  "color":{"condition":[{"test":"datum.kind == 'purple'","value":"#9400D3"},{"test":"datum.kind == 'maroon'","value":"#800000"}],"value":"#00FF00"}}},
{"data":{"name":"chan"},"mark":{"type":"rule","strokeWidth":1,"color":"black","strokeDash":[2,3]},
 "encoding":{
  "x":{"field":"i","type":"quantitative","scale":{"domain":[-0.375,462.125],"nice":false,"zero":false},"axis":null},
  "x2":{"field":"i2"},
  "y":{"field":"p","type":"quantitative","scale":{"domain":[0.875873,0.917766],"nice":false,"zero":false},"axis":null},
  "y2":{"field":"p2"}}},
{"data":{"name":"hl"},"mark":{"type":"rect","color":"black","yOffset":-7,"y2Offset":6.5},
 "encoding":{
  "x":{"datum":462.5,"type":"quantitative","scale":{"domain":[-0.375,462.125],"nice":false,"zero":false},"axis":null},
  "x2":{"datum":476.9},
  "y":{"field":"p","type":"quantitative","scale":{"domain":[0.875873,0.917766],"nice":false,"zero":false},"axis":null},
  "y2":{"field":"p"}}},
{"data":{"name":"hl"},"mark":{"type":"text","color":"white","align":"left","baseline":"middle","font":"DejaVu Sans","fontSize":11.5},
 "encoding":{
  "x":{"datum":464.0,"type":"quantitative","scale":{"domain":[-0.375,462.125],"nice":false,"zero":false},"axis":null},
  "y":{"field":"p","type":"quantitative","scale":{"domain":[0.875873,0.917766],"nice":false,"zero":false},"axis":null},
  "text":{"field":"label"}}},
{"data":{"name":"title"},"mark":{"type":"text","color":"black","align":"left","baseline":"alphabetic","font":"DejaVu Sans","fontSize":11.5},
 "encoding":{
  "x":{"datum":0.625,"type":"quantitative","scale":{"domain":[-0.375,462.125],"nice":false,"zero":false},"axis":null},
  "y":{"datum":0.91703,"type":"quantitative","scale":{"domain":[0.875873,0.917766],"nice":false,"zero":false},"axis":null},
  "text":{"field":"t"}}}
]
}
